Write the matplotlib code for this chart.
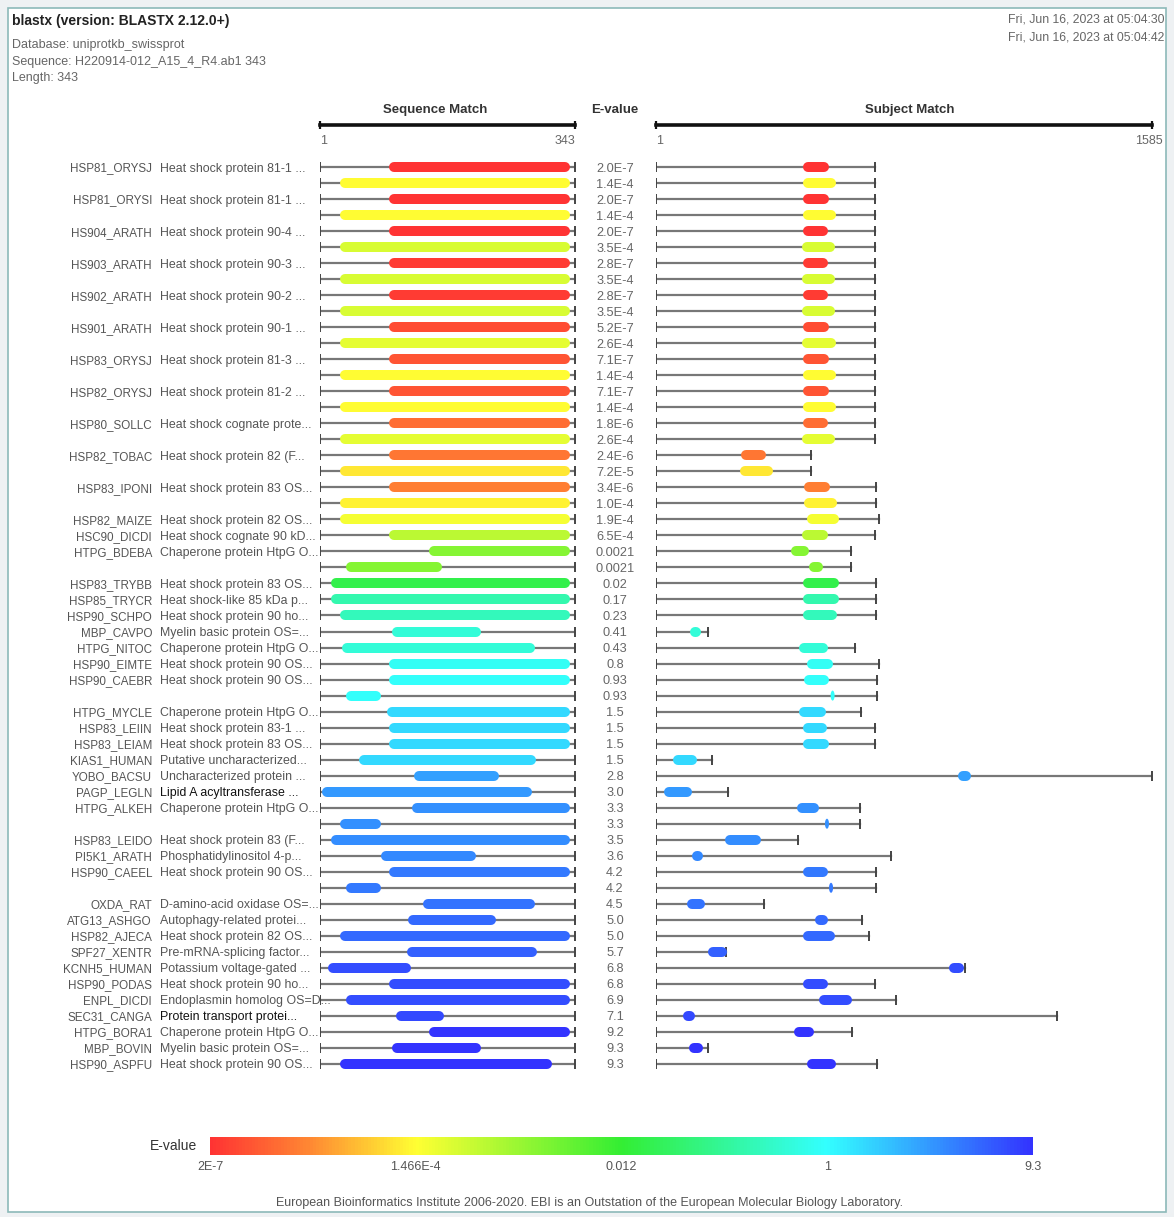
import numpy as np
import matplotlib.pyplot as plt
from matplotlib.colors import LinearSegmentedColormap, FuncNorm
from matplotlib.patches import Ellipse, Rectangle
from matplotlib.cm import ScalarMappable
from matplotlib.transforms import offset_copy

plt.rcParams['font.family'] = ['Liberation Sans', 'DejaVu Sans']

# hits, top to bottom
ids = ['HSP81_ORYSJ', '', 'HSP81_ORYSI', '', 'HS904_ARATH', '', 'HS903_ARATH', '',
       'HS902_ARATH', '', 'HS901_ARATH', '', 'HSP83_ORYSJ', '', 'HSP82_ORYSJ', '',
       'HSP80_SOLLC', '', 'HSP82_TOBAC', '', 'HSP83_IPONI', '', 'HSP82_MAIZE',
       'HSC90_DICDI', 'HTPG_BDEBA', '', 'HSP83_TRYBB', 'HSP85_TRYCR', 'HSP90_SCHPO',
       'MBP_CAVPO', 'HTPG_NITOC', 'HSP90_EIMTE', 'HSP90_CAEBR', '', 'HTPG_MYCLE',
       'HSP83_LEIIN', 'HSP83_LEIAM', 'KIAS1_HUMAN', 'YOBO_BACSU', 'PAGP_LEGLN',
       'HTPG_ALKEH', '', 'HSP83_LEIDO', 'PI5K1_ARATH', 'HSP90_CAEEL', '', 'OXDA_RAT',
       'ATG13_ASHGO', 'HSP82_AJECA', 'SPF27_XENTR', 'KCNH5_HUMAN', 'HSP90_PODAS',
       'ENPL_DICDI', 'SEC31_CANGA', 'HTPG_BORA1', 'MBP_BOVIN', 'HSP90_ASPFU']

descs = ['Heat shock protein 81-1 ...', '', 'Heat shock protein 81-1 ...', '',
         'Heat shock protein 90-4 ...', '', 'Heat shock protein 90-3 ...', '',
         'Heat shock protein 90-2 ...', '', 'Heat shock protein 90-1 ...', '',
         'Heat shock protein 81-3 ...', '', 'Heat shock protein 81-2 ...', '',
         'Heat shock cognate prote...', '', 'Heat shock protein 82 (F...', '',
         'Heat shock protein 83 OS...', '', 'Heat shock protein 82 OS...',
         'Heat shock cognate 90 kD...', 'Chaperone protein HtpG O...', '',
         'Heat shock protein 83 OS...', 'Heat shock-like 85 kDa p...',
         'Heat shock protein 90 ho...', 'Myelin basic protein OS=...',
         'Chaperone protein HtpG O...', 'Heat shock protein 90 OS...',
         'Heat shock protein 90 OS...', '', 'Chaperone protein HtpG O...',
         'Heat shock protein 83-1 ...', 'Heat shock protein 83 OS...',
         'Putative uncharacterized...', 'Uncharacterized protein ...',
         'Lipid A acyltransferase ...', 'Chaperone protein HtpG O...', '',
         'Heat shock protein 83 (F...', 'Phosphatidylinositol 4-p...',
         'Heat shock protein 90 OS...', '', 'D-amino-acid oxidase OS=...',
         'Autophagy-related protei...', 'Heat shock protein 82 OS...',
         'Pre-mRNA-splicing factor...', 'Potassium voltage-gated ...',
         'Heat shock protein 90 ho...', 'Endoplasmin homolog OS=D...',
         'Protein transport protei...', 'Chaperone protein HtpG O...',
         'Myelin basic protein OS=...', 'Heat shock protein 90 OS...']

evalues = ['2.0E-7', '1.4E-4', '2.0E-7', '1.4E-4', '2.0E-7', '3.5E-4', '2.8E-7', '3.5E-4',
           '2.8E-7', '3.5E-4', '5.2E-7', '2.6E-4', '7.1E-7', '1.4E-4', '7.1E-7', '1.4E-4',
           '1.8E-6', '2.6E-4', '2.4E-6', '7.2E-5', '3.4E-6', '1.0E-4', '1.9E-4', '6.5E-4',
           '0.0021', '0.0021', '0.02', '0.17', '0.23', '0.41', '0.43', '0.8', '0.93', '0.93',
           '1.5', '1.5', '1.5', '1.5', '2.8', '3.0', '3.3', '3.3', '3.5', '3.6', '4.2', '4.2',
           '4.5', '5.0', '5.0', '5.7', '6.8', '6.8', '6.9', '7.1', '9.2', '9.3', '9.3']

# query (sequence) coordinates of each hit
q_len = 343
q_start = [100, 34, 100, 34, 100, 34, 100, 34, 100, 34, 100, 34, 100, 34, 100, 34,
           100, 34, 100, 34, 100, 34, 34, 100, 154, 43, 22, 22, 35, 104, 37, 100, 100,
           43, 97, 100, 100, 60, 134, 11, 131, 34, 22, 90, 100, 43, 146, 126, 35, 124,
           19, 100, 43, 109, 154, 104, 35]
q_end = [329, 329, 329, 329, 329, 329, 329, 329, 329, 329, 329, 329, 329, 329, 329, 329,
         329, 329, 329, 329, 329, 329, 329, 329, 329, 158, 329, 329, 329, 210, 283, 329, 329,
         76, 329, 329, 329, 284, 235, 279, 329, 76, 329, 204, 329, 76, 282, 230, 329, 285,
         116, 329, 329, 161, 329, 210, 305]

# subject coordinates and subject lengths
s_max = 1585
s_len = [699, 699, 699, 699, 699, 699, 699, 699, 699, 699, 699, 699, 699, 699, 699, 699,
         699, 699, 496, 496, 703, 703, 714, 700, 623, 623, 703, 703, 703, 168, 637, 713,
         708, 708, 655, 700, 700, 179, 1585, 232, 653, 653, 454, 752, 704, 704, 347, 660,
         681, 225, 988, 700, 768, 1281, 628, 168, 708]
s_start = [486, 486, 486, 486, 486, 482, 486, 482, 486, 482, 486, 482, 486, 486, 486, 486,
           486, 482, 287, 285, 491, 491, 498, 482, 447, 507, 486, 486, 486, 125, 475, 498,
           491, 565, 475, 486, 486, 70, 980, 43, 466, 547, 237, 132, 486, 560, 117, 525,
           486, 182, 952, 486, 538, 104, 458, 122, 498]
s_end = [538, 560, 538, 560, 533, 557, 533, 557, 533, 557, 538, 560, 538, 560, 538, 560,
         533, 557, 335, 358, 541, 564, 570, 533, 474, 517, 570, 570, 562, 129, 533, 549,
         538, 565, 528, 532, 538, 117, 992, 101, 506, 547, 319, 136, 533, 560, 141, 535,
         557, 211, 970, 533, 612, 108, 490, 134, 560]

highlighted = ['PAGP_LEGLN', 'SEC31_CANGA']

cbar_values = [2e-7, 1.466e-4, 0.012, 1, 9.3]
cbar_labels = ['2E-7', '1.466E-4', '0.012', '1', '9.3']

# colour scale
cmap = LinearSegmentedColormap.from_list('evalue', [
    (0.0, '#ff3333'), (0.12, '#ff8833'), (0.25, '#ffff33'),
    (0.5, '#33ee33'), (0.75, '#33ffff'), (1.0, '#3333ff')])
log_t = np.log10(cbar_values)
pos_t = np.linspace(0, 1, len(cbar_values))


def fwd(v):
    return np.interp(np.log10(v), log_t, pos_t)


def inv(p):
    return 10 ** np.interp(p, pos_t, log_t)


norm = FuncNorm((fwd, inv), vmin=cbar_values[0], vmax=cbar_values[-1])

W, H = 1174, 1217
fig = plt.figure(figsize=(W / 100, H / 100), dpi=100, facecolor='#eef1f3')


def fx(px):
    return px / W


def fy(py):
    return 1 - py / H


fig.patches.append(Rectangle((fx(8), fy(1212)), fx(1166) - fx(8), fy(8) - fy(1212),
                             transform=fig.transFigure, facecolor='white',
                             edgecolor='#8cb9b9', lw=1.2, zorder=-5))

# header text
fig.text(fx(12), fy(21), 'blastx (version: BLASTX 2.12.0+)', fontsize=10, weight='bold',
         va='center', color='#222')
fig.text(fx(12), fy(45), 'Database: uniprotkb_swissprot', fontsize=9, va='center', color='#666')
fig.text(fx(12), fy(62), 'Sequence: H220914-012_A15_4_R4.ab1 343', fontsize=9, va='center', color='#666')
fig.text(fx(12), fy(78), 'Length: 343', fontsize=9, va='center', color='#666')
fig.text(fx(1164), fy(20), 'Fri, Jun 16, 2023 at 05:04:30', fontsize=8.8, ha='right', va='center', color='#666')
fig.text(fx(1164), fy(37), 'Fri, Jun 16, 2023 at 05:04:42', fontsize=8.8, ha='right', va='center', color='#666')

n = len(ids)
top, bottom = 159, 1072
ax_q = fig.add_axes([fx(320), fy(bottom), (575 - 320) / W, (bottom - top) / H])
ax_s = fig.add_axes([fx(656), fy(bottom), (1152 - 656) / W, (bottom - top) / H])
ax_q.set_xlim(1, q_len)
ax_s.set_xlim(1, s_max)
row_h = (bottom - top) / n
for ax in (ax_q, ax_s):
    ax.set_ylim(n - 0.5, -0.5)
    ax.axis('off')

line_col = '#777777'
cap_col = '#444444'
bar_lw = 7.2

tr = ax_q.get_yaxis_transform()
tr_txt = offset_copy(tr, fig=fig, y=-4.5, units='dots')   # baseline just below row centre
for i in range(n):
    c = cmap(norm(float(evalues[i])))
    # sequence panel
    ax_q.plot([1, q_len], [i, i], color=line_col, lw=1.6, zorder=1)
    ax_q.plot([1, q_len], [i, i], ls='none', marker='|', ms=7, mew=1.4, color=cap_col, zorder=1)
    ax_q.plot([q_start[i], q_end[i]], [i, i], color=c, lw=bar_lw, solid_capstyle='round', zorder=2)
    # subject panel
    ax_s.plot([1, s_len[i]], [i, i], color=line_col, lw=1.6, zorder=1)
    ax_s.plot([1, s_len[i]], [i, i], ls='none', marker='|', ms=7, mew=1.4, color=cap_col, zorder=1)
    if s_start[i] == s_end[i]:
        ax_s.add_patch(Ellipse((s_start[i], i), 4 * s_max / 496, 10 / row_h,
                               facecolor=c, edgecolor='none', zorder=2))
    else:
        ax_s.plot([s_start[i], s_end[i]], [i, i], color=c, lw=bar_lw, solid_capstyle='round', zorder=2)

    dark = ids[i] in highlighted
    ax_q.text((152 - 320) / 255, i, ids[i], transform=tr_txt, ha='right', va='baseline',
              fontsize=8.4, color='#555')
    ax_q.text((160 - 320) / 255, i, descs[i], transform=tr_txt, ha='left', va='baseline',
              fontsize=8.9, color='#111' if dark else '#555')
    ax_q.text((615 - 320) / 255, i, evalues[i], transform=tr_txt, ha='center', va='baseline',
              fontsize=9.2, color='#666')

# panel headers
y_line = -0.5 - (top - 125) / row_h
y_num = -0.5 - (top - 141) / row_h
y_title = -0.5 - (top - 110) / row_h
for ax, xmax, lab, xt in ((ax_q, q_len, 'Sequence Match', 155), (ax_s, s_max, 'Subject Match', 812)):
    ax.plot([1, xmax], [y_line, y_line], color='#111', lw=2.6, clip_on=False,
            marker='|', ms=6, mew=1.6)
    ax.text(xt, y_title, lab, ha='center', va='center', fontsize=9.5, weight='bold',
            color='#333', clip_on=False)
    ax.text(1, y_num, '1', ha='left', va='center', fontsize=9, color='#666', clip_on=False)
ax_q.text(q_len, y_num, '343', ha='right', va='center', fontsize=9, color='#666')
ax_s.text((1163 - 656) / 496, y_num, '1585', transform=ax_s.get_yaxis_transform(),
          ha='right', va='center', fontsize=9, color='#666')
ax_q.text((615 - 320) / 255, y_title, 'E-value', transform=tr,
          ha='center', va='center', fontsize=9.5, weight='bold', color='#333')

# colour bar
cax = fig.add_axes([fx(210), fy(1155), (1033 - 210) / W, 18 / H])
cb = fig.colorbar(ScalarMappable(norm=norm, cmap=cmap), cax=cax, orientation='horizontal')
cb.set_ticks(cbar_values)
cb.set_ticklabels(cbar_labels)
cb.outline.set_visible(False)
cax.tick_params(length=0, labelsize=9, colors='#555', pad=4)
cax.minorticks_off()
fig.text(fx(197), fy(1146), 'E-value', ha='right', va='center', fontsize=10, color='#333')

fig.text(fx(590), fy(1203), 'European Bioinformatics Institute 2006-2020. EBI is an Outstation '
         'of the European Molecular Biology Laboratory.', ha='center', va='center',
         fontsize=9, color='#555')

fig.savefig('out.png', dpi=100, facecolor=fig.get_facecolor())
